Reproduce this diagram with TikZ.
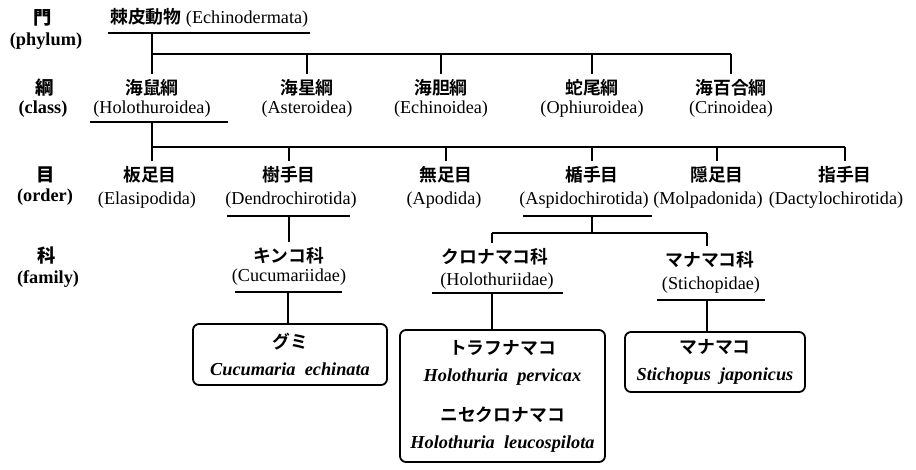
\documentclass[tikz,border=0pt]{standalone}
\usepackage{fontspec}
\setmainfont{Liberation Serif}
\newfontfamily\jpb{Noto Sans CJK JP Bold}
\begin{document}
\begin{tikzpicture}[x=1pt,y=-1pt,
  ln/.style={line width=1.8pt},
  lat/.style={font=\fontsize{18.2}{20}\selectfont, inner sep=0pt},
  jpn/.style={font=\fontsize{17.8}{20}\selectfont\jpb, inner xsep=0pt, inner ysep=5pt},
  rank/.style={font=\fontsize{18.3}{20}\selectfont\bfseries, inner sep=0pt},
  spbox/.style={draw, line width=1.8pt, rounded corners=6pt, align=center,
    font=\fontsize{18.3}{27}\selectfont, inner sep=0pt}
]
\useasboundingbox (0,0) rectangle (916,469);

% rank labels
\node[rank] (r1) at (43,18) {\jpb 門};
\node[rank] (r1e) at (46,41) {(phylum)};
\node[rank] (r2) at (45,88) {\jpb 綱};
\node[rank] (r2e) at (43,109) {(class)};
\node[rank] (r3) at (46,175) {\jpb 目};
\node[rank] (r3e) at (45,197) {(order)};
\node[rank] (r4) at (47,256) {\jpb 科};
\node[rank] (r4e) at (48,279) {(family)};

% phylum
\node[lat, anchor=west] (ph) at (110,18) {{\jpb\fontsize{17.8}{20}\selectfont 棘皮動物} (Echinodermata)};
\coordinate (phL) at (108,33);
\coordinate (phR) at (310,33);
\coordinate (phS) at (152,33);
\coordinate (cbar) at (152,54);

% classes
\node[jpn] (c1) at (152,88) {海鼠綱};
\node[lat] (c1e) at (152,109) {(Holothuroidea)};
\node[jpn] (c2) at (307,88) {海星綱};
\node[lat] (c2e) at (307,109) {(Asteroidea)};
\node[jpn] (c3) at (441,88) {海胆綱};
\node[lat] (c3e) at (441,109) {(Echinoidea)};
\node[jpn] (c4) at (592,88) {蛇尾綱};
\node[lat] (c4e) at (592,109) {(Ophiuroidea)};
\node[jpn] (c5) at (731,88) {海百合綱};
\node[lat] (c5e) at (731,109) {(Crinoidea)};
\coordinate (hoL) at (90,122);
\coordinate (hoR) at (228,122);
\coordinate (hoS) at (152,122);
\coordinate (obar) at (152,147);

% orders
\node[jpn] (o1) at (150,175) {板足目};
\node[lat] (o1e) at (147,200) {(Elasipodida)};
\node[jpn] (o2) at (289,175) {樹手目};
\node[lat] (o2e) at (291,200) {(Dendrochirotida)};
\node[jpn] (o3) at (446,175) {無足目};
\node[lat] (o3e) at (444,200) {(Apodida)};
\node[jpn] (o4) at (592,175) {楯手目};
\node[lat] (o4e) at (584,200) {(Aspidochirotida)};
\node[jpn] (o5) at (717,175) {隠足目};
\node[lat] (o5e) at (708,200) {(Molpadonida)};
\node[jpn] (o6) at (845,175) {指手目};
\node[lat] (o6e) at (836,200) {(Dactylochirotida)};
\coordinate (deL) at (227,216);
\coordinate (deR) at (350,216);
\coordinate (deS) at (289,216);
\coordinate (asL) at (523,216);
\coordinate (asR) at (652,216);
\coordinate (asS) at (592,216);
\coordinate (fbar) at (592,233);

% families
\node[jpn] (f1) at (289,256) {キンコ科};
\node[lat] (f1e) at (289,277) {(Cucumariidae)};
\node[jpn] (f2) at (495,257) {クロナマコ科};
\node[lat] (f2e) at (497,281) {(Holothuriidae)};
\node[jpn] (f3) at (710,260) {マナマコ科};
\node[lat] (f3e) at (711,285) {(Stichopidae)};
\coordinate (f2S) at (492,233);
\coordinate (f3S) at (707,233);
\coordinate (cuL) at (235,292);
\coordinate (cuR) at (342,292);
\coordinate (cuS) at (288,292);
\coordinate (hlL) at (432,293);
\coordinate (hlR) at (563,293);
\coordinate (hlS) at (492,293);
\coordinate (stL) at (657,300);
\coordinate (stR) at (765,300);
\coordinate (stS) at (707,300);

% species boxes
\node[spbox, minimum width=194pt, minimum height=61pt] (b1) at (290,354.5)
  {{\jpb\fontsize{17.8}{20}\selectfont グミ}\\{\bfseries\itshape Cucumaria\enspace echinata}};
\node[spbox, minimum width=205pt, minimum height=132pt] (b2) at (502.5,396)
  {{\jpb\fontsize{17.8}{20}\selectfont トラフナマコ}\\{\bfseries\itshape Holothuria\enspace pervicax}\\[13pt]
   {\jpb\fontsize{17.8}{20}\selectfont ニセクロナマコ}\\{\bfseries\itshape Holothuria\enspace leucospilota}};
\node[spbox, minimum width=180pt, minimum height=60pt] (b3) at (715,362)
  {{\jpb\fontsize{17.8}{20}\selectfont マナマコ}\\{\bfseries\itshape Stichopus\enspace japonicus}};

% connectors
\draw[ln] (phL) -- (phR);
\draw[ln] (phS) -- (c1.north);
\draw[ln] (cbar) -- (cbar -| c5.north);
\foreach \n in {c2,c3,c4,c5} \draw[ln] (cbar -| \n.north) -- (\n.north);

\draw[ln] (hoL) -- (hoR);
\draw[ln] (hoS) -- (o1.north -| hoS);
\draw[ln] (obar) -- (obar -| o6.north);
\foreach \n in {o2,o3,o4,o5,o6} \draw[ln] (obar -| \n.north) -- (\n.north);

\draw[ln] (deL) -- (deR);
\draw[ln] (deS) -- (f1.north);
\draw[ln] (asL) -- (asR);
\draw[ln] (asS) -- (fbar);
\draw[ln] (f2S) -- (f3S);
\draw[ln] (f2S) -- (f2.north -| f2S);
\draw[ln] (f3S) -- (f3.north -| f3S);

\draw[ln] (cuL) -- (cuR);
\draw[ln] (cuS) -- (cuS |- b1.north);
\draw[ln] (hlL) -- (hlR);
\draw[ln] (hlS) -- (hlS |- b2.north);
\draw[ln] (stL) -- (stR);
\draw[ln] (stS) -- (stS |- b3.north);
\end{tikzpicture}
\end{document}
